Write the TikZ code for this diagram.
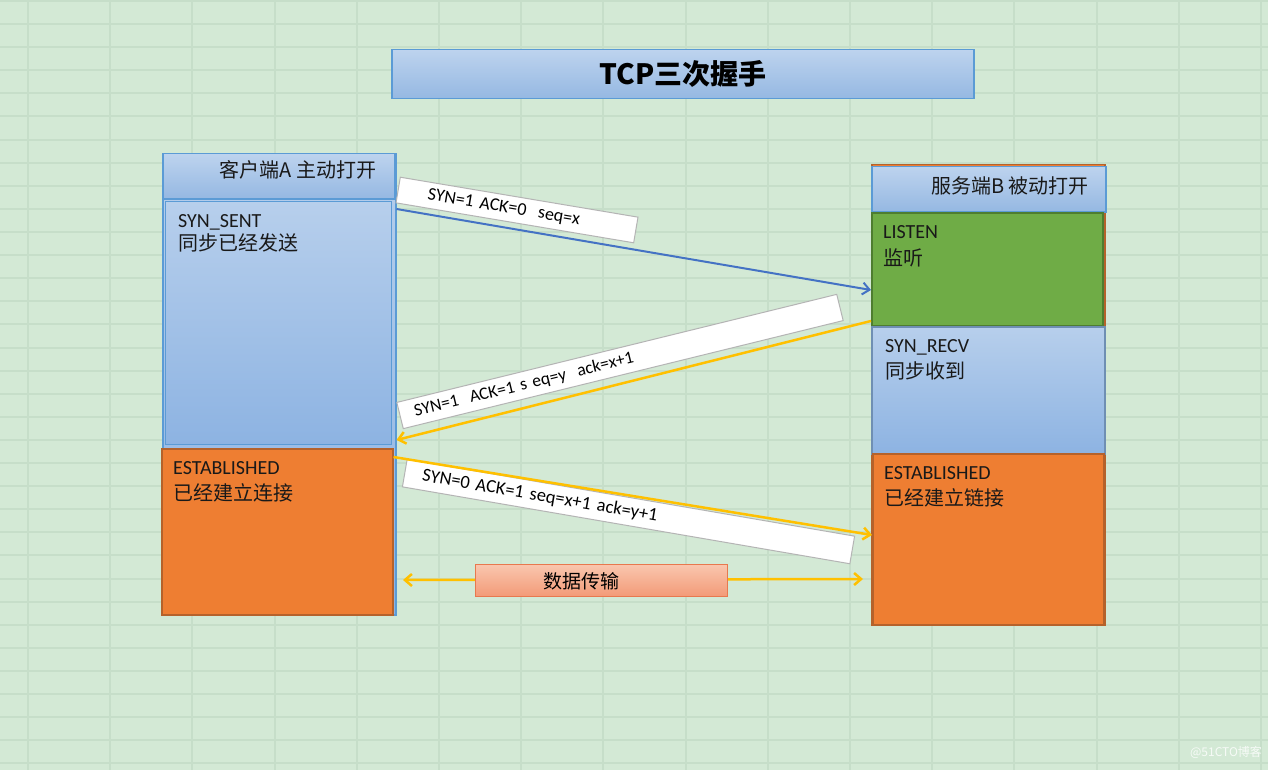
\documentclass[tikz,border=0pt]{standalone}
\usepackage{fontspec}
\setmainfont{Carlito}
\newfontfamily\cjk{Noto Sans CJK SC}
\usetikzlibrary{arrows.meta,calc}
\definecolor{bggreen}{HTML}{D3E9D5}
\definecolor{gridline}{HTML}{C6DEC9}
\definecolor{blueTop}{HTML}{B7CFEC}
\definecolor{blueBot}{HTML}{8DB3E2}
\definecolor{hdrTop}{HTML}{BDD3EE}
\definecolor{hdrBot}{HTML}{95B8E2}
\definecolor{blueEdge}{HTML}{5B9BD5}
\definecolor{blueEdgeB}{HTML}{6F8FB3}
\definecolor{orangeFill}{HTML}{EE7E32}
\definecolor{orangeEdge}{HTML}{B5622B}
\definecolor{greenFill}{HTML}{6FAC46}
\definecolor{greenEdge}{HTML}{4E7D30}
\definecolor{arrBlue}{HTML}{4472C4}
\definecolor{arrYellow}{HTML}{FFC000}
\definecolor{salTop}{HTML}{F9C6AE}
\definecolor{salBot}{HTML}{F39A77}
\definecolor{salEdge}{HTML}{E8784E}
\definecolor{lblEdge}{HTML}{B4B4B4}
\begin{document}
\begin{tikzpicture}[x=1pt,y=-1pt,
  box/.style={rectangle, anchor=north west, inner sep=0pt, line width=1.5pt},
  bluebox/.style={box, top color=blueTop, bottom color=blueBot, draw=blueEdge},
  hdrbox/.style={box, top color=hdrTop, bottom color=hdrBot, draw=blueEdge},
  orangebox/.style={box, fill=orangeFill, draw=orangeEdge},
  greenbox/.style={box, fill=greenFill, draw=greenEdge},
  lattxt/.style={anchor=base west, inner sep=0pt, font=\fontsize{20}{24}\selectfont, text=black!90},
  cjktxt/.style={anchor=base west, inner sep=0pt, font=\cjk\fontsize{20}{24}\selectfont, text=black!90},
  hdrtxt/.style={inner sep=0pt, font=\cjk\fontsize{20}{24}\selectfont, text=black!90},
  lbl/.style={draw=lblEdge, fill=white, line width=1pt, inner ysep=0pt, align=left, font=\fontsize{17.5}{20}\selectfont},
  bluearrow/.style={draw=arrBlue, line width=2pt, -{Straight Barb[length=7pt,width=12pt]}},
  yelarrow/.style={draw=arrYellow, line width=2.5pt, -{Straight Barb[length=7pt,width=12pt]}},
  yeldarrow/.style={draw=arrYellow, line width=2.5pt, {Straight Barb[length=7pt,width=12pt]}-{Straight Barb[length=7pt,width=12pt]}}
]
\useasboundingbox (0,0) rectangle (1268,770);
\fill[bggreen] (0,0) rectangle (1268,770);
\foreach \i in {0,...,15} \draw[gridline, line width=2pt] (28+82.2*\i,0) -- ++(0,770);
\foreach \j in {0,...,33} \draw[gridline, line width=2pt] (0,1+23.1*\j) -- ++(1268,0);

% title
\node[hdrbox, minimum width=582, minimum height=49] (title) at (391,49) {};
\node[inner sep=0pt, font=\cjk\bfseries\fontsize{28}{32}\selectfont] (titletxt) at (683,74) {TCP三次握手};

% client column
\node[bluebox, minimum width=233, minimum height=461] (colA) at (162,153) {};
\node[hdrbox, minimum width=232, minimum height=45] (hdrA) at (162,153) {};
\node[hdrtxt] (hdrAtxt) at (298,170) {客户端A 主动打开};
\node[bluebox, line width=1pt, minimum width=226, minimum height=243] (sent) at (165,201) {};
\node[lattxt] (sent1) at (178,227) {SYN\_SENT};
\node[cjktxt] (sent2) at (178,250) {同步已经发送};
\node[orangebox, minimum width=231, minimum height=166] (estA) at (161,448) {};
\node[lattxt] (estA1) at (173,474) {ESTABLISHED};
\node[cjktxt] (estA2) at (173,500) {已经建立连接};

% server column
\node[orangebox, minimum width=233, minimum height=460] (colB) at (871,164) {};
\node[hdrbox, minimum width=234, minimum height=45] (hdrB) at (871,166) {};
\node[hdrtxt] (hdrBtxt) at (1010,186) {服务端B 被动打开};
\node[greenbox, minimum width=231, minimum height=113] (listen) at (871,212) {};
\node[lattxt] (listen1) at (883,238) {LISTEN};
\node[cjktxt] (listen2) at (883,265) {监听};
\node[bluebox, draw=blueEdgeB, minimum width=233, minimum height=127] (recv) at (871,326) {};
\node[lattxt] (recv1) at (885,352) {SYN\_RECV};
\node[cjktxt] (recv2) at (885,378) {同步收到};
\node[orangebox, minimum width=231, minimum height=171] (estB) at (872,453) {};
\node[lattxt] (estB1) at (884,479) {ESTABLISHED};
\node[cjktxt] (estB2) at (884,505) {已经建立链接};

% message labels
\node[lbl, font=\fontsize{18}{20}\selectfont, rotate=-9.54, inner xsep=30pt, text width=181pt, minimum height=26pt] (m1) at (517,210) {SYN=1 ACK=0\ \ seq=x};
\node[lbl, rotate=13.8, inner xsep=15pt, text width=423pt, minimum height=27pt] (m2) at (620,361.5) {SYN=1\ \ ACK=1 s eq=y\ \ ack=x+1};
\node[lbl, font=\fontsize{18.5}{20}\selectfont, rotate=-9.75, inner xsep=18pt, text width=418pt, minimum height=28pt] (m3) at (628.5,511.5) {SYN=0 ACK=1 seq=x+1 ack=y+1};

% connectors
\draw[bluearrow] (colA.east |- 0,209) -- (listen.west |- 0,290);
\draw[yelarrow] (listen.west |- 0,321) -- (colA.east |- 0,440);
\draw[yelarrow] (estA.east |- 0,457) -- (estB.west |- 0,535);
\coordinate (dL) at (403,580);
\coordinate (dR) at (863,579);
\draw[yeldarrow] (dL) -- (dR);

% data transfer box
\node[box, top color=salTop, bottom color=salBot, draw=salEdge, line width=1.2pt, minimum width=252, minimum height=32] (data) at (475,564) {};
\node[inner sep=0pt, font=\cjk\fontsize{19}{22}\selectfont] (datatxt) at (581,581) {数据传输};

% watermark
\node[inner sep=0pt, font=\cjk\fontsize{12}{14}\selectfont, text=white, opacity=0.8] (wm) at (1226,752) {@51CTO博客};
\end{tikzpicture}
\end{document}
